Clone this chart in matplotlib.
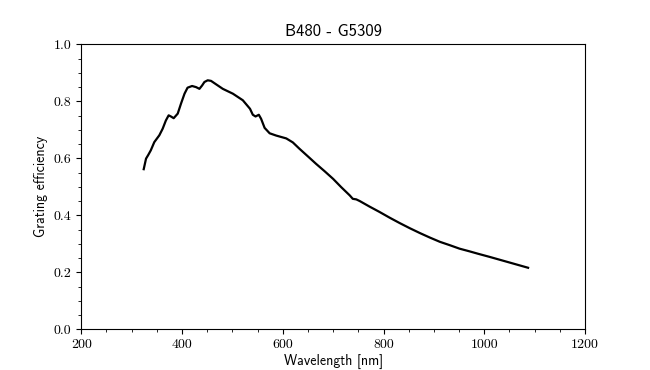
import numpy as np
import matplotlib
matplotlib.use("Agg")
import matplotlib.pyplot as plt
from matplotlib.ticker import MultipleLocator

# valores
wavelength = [324, 328.6, 333, 338, 345, 355, 361.6, 368, 373.5, 378, 383.5, 391.5,
              398, 405, 411, 420, 428, 434.6, 440, 444.5, 451, 457.6, 467.6, 481,
              501, 520.7, 535, 540.6, 546, 552.5, 557, 564, 574, 587, 607, 620, 633,
              653, 666, 683, 700, 716, 733, 739, 746, 753, 772, 792, 812, 832, 852, 872,
              892, 912, 932, 951, 970, 988, 1011, 1031, 1051, 1069, 1087]
efficiency = [0.562, 0.599, 0.612, 0.628, 0.657, 0.681, 0.704, 0.733, 0.751, 0.747, 0.741, 0.757,
              0.792, 0.827, 0.848, 0.854, 0.850, 0.844, 0.856, 0.868, 0.874, 0.872, 0.860, 0.844,
              0.827, 0.804, 0.774, 0.753, 0.747, 0.753, 0.739, 0.707, 0.688, 0.680, 0.670, 0.656, 0.634,
              0.602, 0.581, 0.555, 0.528, 0.499, 0.470, 0.458, 0.456, 0.450, 0.431, 0.412, 0.392, 0.373,
              0.355, 0.338, 0.322, 0.307, 0.295, 0.283, 0.274, 0.265, 0.254, 0.244, 0.234, 0.225, 0.216]

plt.rcParams['font.family'] = 'cmss10'
plt.rcParams['axes.unicode_minus'] = False
plt.rcParams['mathtext.fontset'] = 'cm'

fig, ax = plt.subplots(figsize=(6.5, 3.7), dpi=100)
ax.plot(wavelength, efficiency, color='black', lw=1.6)

ax.set_xlim(200, 1200)
ax.set_ylim(0, 1)
ax.xaxis.set_major_locator(MultipleLocator(200))
ax.xaxis.set_minor_locator(MultipleLocator(50))
ax.yaxis.set_major_locator(MultipleLocator(0.2))
ax.yaxis.set_minor_locator(MultipleLocator(0.05))
ax.tick_params(labelfontfamily='cmr10')

ax.set_title('B480 - G5309')
ax.set_xlabel('Wavelength [nm]', labelpad=2)
ax.set_ylabel('Grating efficiency')

fig.savefig('out.png', dpi=100)
